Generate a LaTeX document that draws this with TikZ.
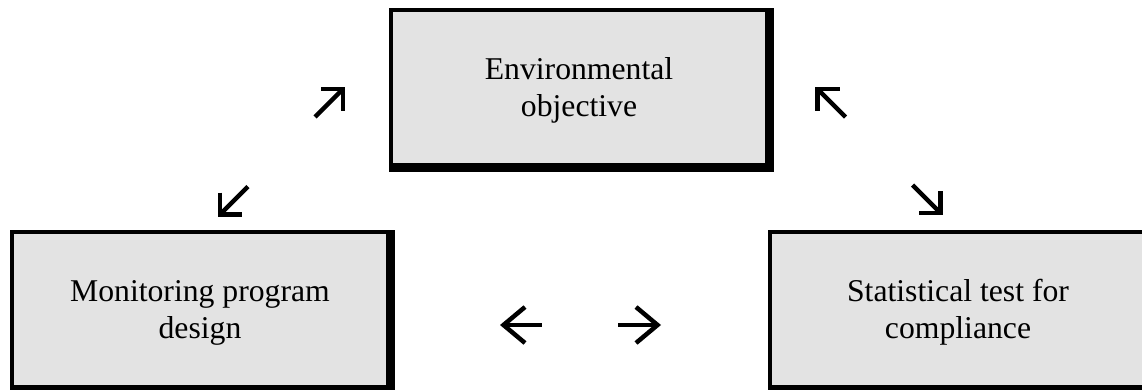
\documentclass[tikz,border=0pt]{standalone}
\usepackage{fontspec}
\setmainfont{Liberation Serif}
\usetikzlibrary{backgrounds}
\definecolor{boxgray}{RGB}{227,227,227}
\begin{document}
\begin{tikzpicture}[x=1pt,y=-1pt,
  box/.style={fill=boxgray, minimum width=372pt, minimum height=151pt, inner sep=0pt},
  lbl/.style={inner sep=0pt, align=center, font=\fontsize{31.7pt}{37pt}\selectfont},
  glyph/.style={line width=4.5pt, line join=miter}]
\useasboundingbox (0,0) rectangle (1142,389);
\clip (0,0) rectangle (1142,389);
% boxes (inner grey faces)
\node[box] (env)  at (579,87.5)  {};
\node[box] (mon)  at (200,309.5) {};
\node[box] (stat) at (958,309.5) {};
% box texts
\node[lbl] (envt)  at ([yshift=-3pt]env.center)  {Environmental\\objective};
\node[lbl] (mont)  at ([yshift=-3pt]mon.center)  {Monitoring program\\design};
\node[lbl] (statt) at ([yshift=-2.5pt]stat.center) {Statistical test for\\compliance};
% heavy frames behind the faces
\begin{scope}[on background layer]
  \clip (0,0) rectangle (1142,389);
  \foreach \n in {env,mon,stat}
    \fill[black] ([shift={(-4pt,4pt)}]\n.north west) rectangle ([shift={(9pt,-9pt)}]\n.south east);
\end{scope}
% diagonal arrow glyphs
% up-right (near top-left)
\draw[glyph] (315,117) -- (342,90);
\draw[glyph] (321,89) -- (343,89) -- (343,111);
% up-left (near top-right)
\draw[glyph] (845.5,117) -- (818.5,90);
\draw[glyph] (839.5,89) -- (817.5,89) -- (817.5,111);
% down-left
\draw[glyph] (248,186.5) -- (221,213.5);
\draw[glyph] (220,192.5) -- (220,214.5) -- (242,214.5);
% down-right
\draw[glyph] (912.5,185) -- (939.5,212);
\draw[glyph] (940.5,191) -- (940.5,213) -- (918.5,213);
% horizontal arrow glyphs
\draw[glyph] (503,325) -- (542,325);
\draw[glyph] (525,307) -- (503.5,325) -- (525,343);
\draw[glyph] (618,325) -- (657,325);
\draw[glyph] (636,307) -- (657.5,325) -- (636,343);
\end{tikzpicture}
\end{document}
